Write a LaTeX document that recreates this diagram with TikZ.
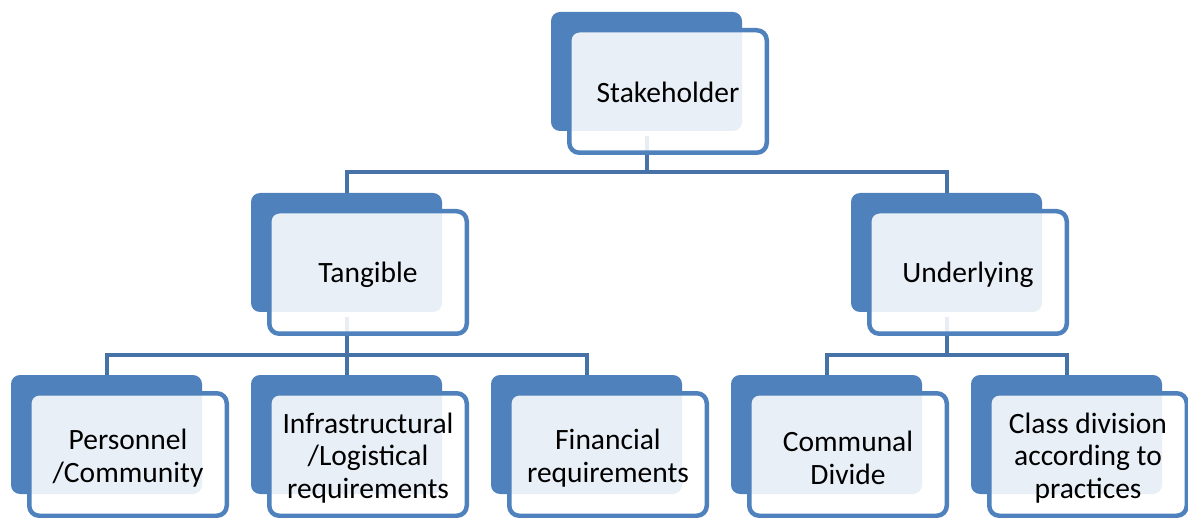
\documentclass[tikz,border=0pt]{standalone}
\usepackage{fontspec}
\setmainfont{Carlito}
\definecolor{boxblue}{HTML}{4F81BD}
\definecolor{lineblue}{HTML}{4672A8}
\begin{document}
\begin{tikzpicture}[x=1pt,y=-1pt,
  backbox/.style={fill=boxblue, rounded corners=9pt, minimum width=191pt, minimum height=119pt, inner sep=0pt},
  frontbox/.style={draw=boxblue, line width=4.5pt, fill=white, fill opacity=0.88, rounded corners=10pt, minimum width=197.5pt, minimum height=122.5pt, inner sep=0pt},
  lbl/.style={align=center, inner sep=0pt, font=\fontsize{29.5}{32.5}\selectfont},
  conn/.style={draw=lineblue, line width=4pt, line join=miter}]
\useasboundingbox (0,0) rectangle (1188,518);
% back boxes
\node[backbox] (Sb) at (646.5,71.5) {};
\node[backbox] (Tb) at (346.5,252.5) {};
\node[backbox] (Ub) at (946.5,252.5) {};
\node[backbox] (Pb) at (106.5,434.5) {};
\node[backbox] (Ib) at (346.5,434.5) {};
\node[backbox] (Fb) at (586.5,434.5) {};
\node[backbox] (Cb) at (826.5,434.5) {};
\node[backbox] (Db) at (1066.5,434.5) {};
% buses
\coordinate (bus1) at (0,172);
\coordinate (bus2) at (0,355);
% connectors
\draw[conn] ([yshift=-5pt]Sb.south) -- (Sb.south |- bus1) -| (Tb.north);
\draw[conn] (Sb.south |- bus1) -| (Ub.north);
\draw[conn] ([yshift=-5pt]Tb.south) -- (Tb.south |- bus2) -| (Pb.north);
\draw[conn] (Tb.south |- bus2) -- (Ib.north);
\draw[conn] (Tb.south |- bus2) -| (Fb.north);
\draw[conn] ([yshift=-5pt]Ub.south) -- (Ub.south |- bus2) -| (Cb.north);
\draw[conn] (Ub.south |- bus2) -| (Db.north);
% front boxes
\node[frontbox] (S) at (668,91.5) {};
\node[frontbox] (T) at (368,272.5) {};
\node[frontbox] (U) at (968,272.5) {};
\node[frontbox] (P) at (128,454.5) {};
\node[frontbox] (I) at (368,454.5) {};
\node[frontbox] (F) at (608,454.5) {};
\node[frontbox] (C) at (848,454.5) {};
\node[frontbox] (D) at (1088,454.5) {};
% labels
\node[lbl] (St) at ([yshift=-1pt]S.center) {Stakeholder};
\node[lbl] (Tt) at ([yshift=-2pt]T.center) {Tangible};
\node[lbl] (Ut) at ([yshift=-2pt]U.center) {Underlying};
\node[lbl] (Pt) at ([yshift=-3.5pt]P.center) {Personnel\\/Community};
\node[lbl] (It) at ([yshift=-3.5pt]I.center) {Infrastructural\\/Logistical\\requirements};
\node[lbl] (Ft) at ([yshift=-3.5pt]F.center) {Financial\\requirements};
\node[lbl] (Ct) at ([yshift=-3.5pt]C.center) {Communal\\Divide};
\node[lbl] (Dt) at ([yshift=-3.5pt]D.center) {Class division\\according to\\practices};
\end{tikzpicture}
\end{document}
